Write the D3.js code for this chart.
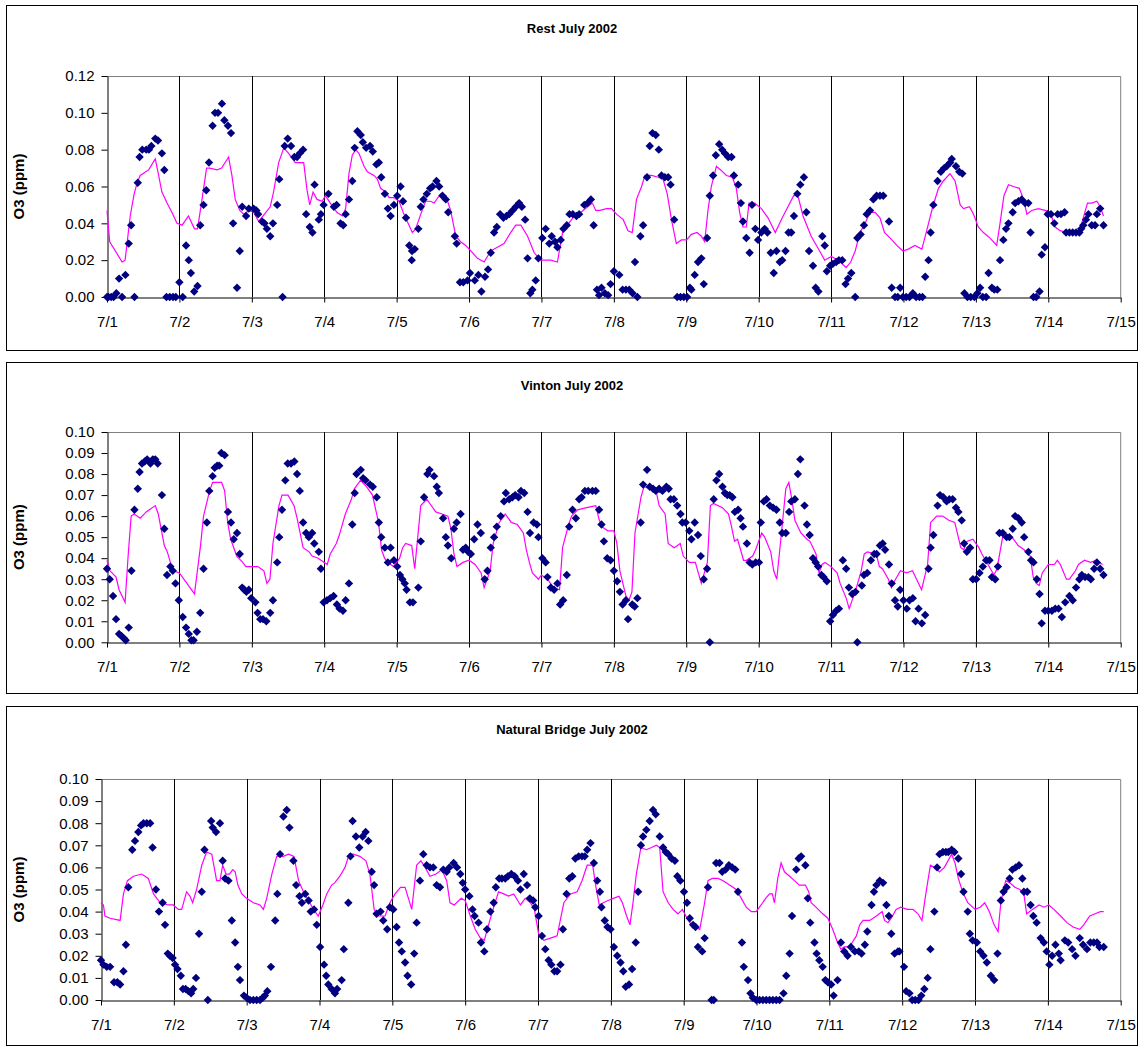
<!DOCTYPE html>
<html>
<head>
<meta charset="utf-8">
<script src="https://cdn.jsdelivr.net/npm/d3@7"></script>
<style>
  body { margin: 0; background: #fff; }
  text { font-family: Arial, "Liberation Sans", sans-serif; }
</style>
</head>
<body>
<div id="chart"></div>
<script>
// Hourly ozone, July 1-14 2002. Points are [hours since 7/1 00:00, ppm].

const dayLabels = ['7/1','7/2','7/3','7/4','7/5','7/6','7/7','7/8','7/9','7/10','7/11','7/12','7/13','7/14','7/15'];
const restTicks = [0, 0.02, 0.04, 0.06, 0.08, 0.10, 0.12];
const siteTicks = [0, 0.01, 0.02, 0.03, 0.04, 0.05, 0.06, 0.07, 0.08, 0.09, 0.10];

// Rest - measured (diamonds)
const restObs = [
[0,0],[0.5,0],[1.4,0],[2.2,0],[3.1,.002],[4,.010],[5,0],[6.1,.012],[7.2,.029],[8,.039],[9.1,0],[10.2,.062],[10.8,.076],[11.7,.080],[13,.080],[13.9,.080],[14.7,.082],[16,.086],[16.9,.085],[18.2,.078],[19,.069],[19.7,0],[20.8,0],[21.9,0],[22.8,0],
[24,.008],[25.1,0],[26.2,.028],[27.1,.020],[27.8,.013],[28.9,.003],[30,.006],[30.9,.039],[32,.050],[32.9,.058],[33.8,.073],[35,.093],[35.8,.100],[36.8,.100],[38.1,.105],[38.9,.096],[40.1,.093],[41.1,.089],[41.8,.040],[43.1,.005],[44,.025],[44.8,.049],[46.1,.044],[47,.048],
[48.6,.048],[49.5,.047],[50.1,.045],[51.4,.041],[52.2,.040],[53,.037],[54.1,.033],[55,.040],[56.4,.050],[57.1,.064],[58.2,0],[58.9,.082],[59.9,.086],[61,.082],[62.1,.076],[63,.076],[63.9,.078],[65,.080],[66,.045],[67.2,.038],[68.1,.035],[68.8,.061],[70.2,.042],[70.9,.045],[71.8,.050],[73.4,.056],
[75.2,.049],[76.1,.050],[77.4,.040],[78.3,.039],[79.1,.045],[80.2,.053],[81.3,.063],[82.1,.081],[83,.090],[84.1,.088],[84.8,.084],[85.9,.081],[87.2,.082],[88.1,.079],[89.3,.072],[90.1,.073],[90.9,.065],[92.1,.056],[93.1,.048],[94,.044],[95.1,.050],
[96.2,.055],[97.3,.060],[98.1,.052],[99.1,.043],[100.2,.028],[101.1,.025],[101,.020],[102,.026],[103.2,.037],[104,.049],[104.9,.053],[106,.056],[107.1,.059],[107.9,.060],[109.2,.063],[110.1,.060],[111.2,.055],[112.3,.053],[113.1,.046],[115.3,.033],[115.9,.029],[117,.008],[118.1,.008],[119.5,.009],
[120.3,.013],[121.9,.009],[123.1,.012],[124.1,.003],[125.3,.011],[126.3,.015],[127.2,.024],[128.3,.035],[129.2,.038],[130.3,.045],[131.4,.043],[132.4,.044],[133.3,.045],[134.4,.047],[135.5,.049],[136.6,.051],[137.5,.049],[138.6,.042],[139.4,.021],[140.3,.002],[141,.004],[142.1,.009],[143,.021],
[144.3,.032],[145.4,.037],[146.6,.029],[147.4,.033],[148.5,.030],[149.3,.027],[150.4,.031],[151.3,.037],[152.4,.039],[153.3,.045],[154.4,.045],[155.6,.044],[156.5,.045],[158.2,.050],[159.3,.051],[160.4,.053],[161.3,.039],[162.4,.004],[163.1,.001],[163.9,.005],[165,.002],[166.1,.001],[166.9,.007],
[168,.014],[169.8,.012],[170.9,.004],[172,.004],[173.1,.004],[174.2,.002],[175,.019],[175.8,0],[176.8,.033],[177.7,.039],[179,.065],[179.9,.082],[180.8,.089],[181.9,.088],[182.9,.080],[183.8,.066],[184.9,.065],[186,.065],[186.8,.061],[188,.042],[189,0],[190.1,0],[191.2,0],
[192.3,0],[193.2,.005],[193.7,.004],[194.8,.012],[195.9,.019],[197,.021],[197.8,.007],[198.9,.032],[199.8,.055],[200.9,.066],[201.8,.077],[202.9,.083],[203.9,.080],[204.8,.078],[205.9,.076],[207,.076],[207.8,.066],[209.2,.061],[210.1,.051],[210.8,.041],[211.9,.032],[213,.024],[213.8,.050],[214.9,.037],[215.8,.031],
[216.9,.035],[218,.037],[218.9,.035],[220,.024],[221,.013],[221.9,.025],[223,.019],[223.8,.020],[224.9,.025],[225.9,.035],[226.8,.035],[227.7,.044],[228.8,.056],[229.8,.061],[231,.065],[231.8,.046],[232.7,.025],[234,.017],[234.9,.005],[235.8,.003],[237.1,.033],[237.9,.028],[238.6,.014],[239.7,.017],
[240.6,.018],[241.7,.019],[242.6,.020],[243.7,.020],[244.8,.007],[245.6,.010],[246.7,.013],[248,0],[248.7,.032],[249.8,.034],[250.9,.039],[251.8,.045],[252.9,.047],[254,.053],[255.1,.055],[256.2,.055],[257.3,.055],[259.2,.041],[260.1,.005],[261.2,0],[262.1,0],[262.9,.005],[263.8,0],
[264.9,0],[266,0],[267.1,.002],[268.2,0],[269.3,0],[270.3,0],[271.2,.011],[272.3,.020],[273,.035],[273.9,.050],[275.3,.063],[276.4,.068],[277.5,.070],[278.3,.071],[279.5,.073],[280,.075],[281.4,.071],[282.5,.068],[283.5,.067],[284.2,.002],[285.2,0],[286.3,0],[287.5,0],
[288.5,.002],[289.4,.005],[290.3,0],[291.4,0],[292.2,.013],[293.3,.005],[294.1,.004],[295.1,.004],[296,.020],[297.1,.031],[298,.037],[298.8,.040],[300.2,.046],[301,.051],[302.1,.052],[303.2,.053],[304.3,.051],[305.4,.051],[306.1,.035],[307.1,0],[308,0],[309.1,.003],[309.8,.023],[310.9,.027],[311.8,.045],
[312.9,.045],[314,.040],[315.1,.045],[316.2,.045],[317.4,.046],[317.9,.035],[319,.035],[320.1,.035],[321.2,.035],[322.3,.035],[322.9,.037],[323.6,.039],[324.5,.042],[325.3,.045],[326.4,.039],[327.5,.039],[328.1,.045],[329.2,.048],[330.3,.039]
];

// Rest - magenta line
const restAvg = [
[0,.047],[0.9,.030],[5,.019],[6,.020],[7.7,.044],[9,.056],[10,.062],[11,.066],[13.8,.069],[16,.075],[17,.067],[18.2,.057],[19.9,.051],[21.5,.046],[23.2,.040],[24.9,.039],[27,.044],[29,.037],[30,.037],[31.5,.053],[33,.070],[34,.070],[36.5,.069],[38,.070],[40.3,.076],[41.4,.066],[42.5,.053],[44,.047],[45.3,.045],[47,.047],
[48.6,.046],[50.3,.041],[52.2,.045],[54.1,.049],[55.2,.057],[56.9,.073],[58.6,.081],[60.2,.078],[62.4,.073],[65.2,.073],[66.3,.058],[67.2,.050],[68.3,.057],[69.6,.053],[71.3,.052],[72.4,.055],[74,.051],[76.2,.046],[78,.044],[79.1,.048],[80.2,.067],[81.3,.077],[82.4,.080],[83.5,.078],[85.2,.071],[86.3,.068],[88.5,.066],[89.6,.064],[90.7,.059],[92.4,.057],[93.5,.054],[95.1,.054],
[96.8,.052],[98.4,.045],[101.2,.035],[102.3,.037],[104,.045],[105.6,.052],[107.3,.052],[108.4,.051],[110.6,.056],[112.3,.055],[113.9,.047],[115.6,.033],[117.2,.030],[118.9,.028],[120.6,.025],[122.8,.021],[125,.019],[127.2,.025],[129.4,.027],[131.6,.029],[133.8,.035],[135.5,.039],[137.2,.039],[139.4,.033],[141.6,.024],[143.8,.020],
[147.1,.020],[149.3,.019],[151,.035],[152.6,.039],[154.9,.044],[157.1,.046],[159.3,.049],[160.9,.051],[162,.047],[163.4,.047],[165.6,.048],[167.2,.048],[168.9,.045],[171.1,.042],[172.7,.036],[174.1,.035],[175.5,.053],[177.2,.060],[178.3,.066],[180.5,.066],[182.7,.065],[184.3,.064],[185.7,.056],[187.1,.042],[188.7,.029],[190.4,.031],
[192.1,.031],[193.7,.034],[195.6,.035],[197,.033],[198.1,.030],[199.2,.047],[200.3,.060],[202,.071],[203.4,.069],[205.3,.066],[207.3,.065],[208.6,.059],[209.7,.046],[210.8,.038],[211.9,.038],[212.8,.051],[214.7,.051],[216.9,.048],[219.1,.043],[221.5,.035],[223.5,.042],[225.7,.049],[227.6,.055],[229,.055],[230.7,.044],[233.4,.033],[236.2,.025],[237.9,.020],
[240.1,.022],[242.3,.020],[245,.016],[246.5,.019],[248,.025],[249.6,.035],[251.3,.040],[252.9,.046],[254.6,.046],[256.2,.043],[257.7,.035],[259.6,.032],[261.8,.028],[263.8,.025],[265.6,.026],[267.8,.028],[270.1,.026],[271.7,.036],[273.7,.049],[275.6,.059],[277.2,.063],[279.4,.067],[281.1,.063],[282.8,.050],[283.9,.048],[285.9,.049],[287.2,.045],
[288.8,.038],[290.5,.035],[292.7,.032],[294.9,.028],[296,.040],[297.3,.055],[298.8,.061],[300.4,.060],[302.4,.059],[303.8,.053],[304.9,.045],[306.5,.047],[308.7,.048],[310.9,.047],[312.6,.046],[314.3,.038],[315.9,.036],[318.1,.035],[320.3,.034],[322,.034],[323.6,.043],[325,.051],[326.4,.051],[328.1,.052],[329.2,.049],[330.3,.044]
];

// Vinton - measured
const vintonObs = [
[0,.035],[0.9,.030],[2,.022],[3,.011],[4,.004],[4.8,.003],[5.5,.002],[6.2,.001],[7.2,.007],[8.1,.034],[9.1,.063],[10.2,.073],[10.8,.081],[11.6,.085],[12.5,.086],[13.3,.087],[14.4,.085],[15.2,.087],[16,.087],[16.8,.085],[18.2,.070],[19,.054],[19.9,.032],[21,.036],[21.8,.034],[22.7,.028],[23.8,.020],
[25.1,.012],[26.2,.007],[27.1,.004],[28,.001],[28.7,.001],[29.8,.005],[30.9,.014],[32,.035],[33.1,.057],[33.9,.072],[35,.079],[35.7,.083],[36.5,.084],[37.2,.084],[37.9,.090],[39,.089],[40.1,.062],[41.1,.057],[42,.049],[43.1,.052],[44,.042],[44.8,.026],[45.5,.025],[46.2,.024],[47,.025],[47.8,.021],
[49.2,.019],[49.9,.014],[50.8,.011],[51.7,.011],[52.8,.010],[54.1,.014],[55,.020],[56.4,.038],[57.1,.050],[58,.063],[59.1,.077],[59.9,.085],[61,.085],[62.1,.086],[63,.080],[63.9,.072],[65,.057],[66,.052],[66.9,.050],[68,.052],[68.7,.047],[70.2,.043],[70.9,.035],[71.8,.019],
[72.9,.020],[74,.021],[75.1,.022],[76.2,.018],[77.1,.016],[78.2,.015],[79.1,.020],[80.2,.028],[81.3,.056],[82.1,.071],[82.7,.080],[84.1,.082],[84.9,.078],[85.7,.077],[87.2,.075],[88.1,.074],[89.4,.069],[90.1,.057],[90.9,.050],[92.1,.045],[93.1,.038],[94,.045],[95.1,.039],
[96.2,.036],[97.1,.032],[97.9,.030],[98.7,.028],[99.3,.025],[100.4,.019],[101.4,.019],[103.2,.026],[104,.048],[105.1,.069],[106.2,.080],[106.9,.082],[108.4,.079],[109.3,.074],[110,.071],[111.4,.059],[112.3,.050],[113,.046],[114.1,.040],[115,.054],[115.9,.057],[117.2,.061],[118,.044],[118.9,.045],[119.7,.043],
[120.6,.042],[121.7,.049],[122.8,.056],[123.9,.052],[125.2,.030],[126.1,.034],[127.2,.045],[128.3,.050],[129.2,.055],[130.5,.060],[131.6,.067],[132.2,.071],[133.3,.068],[134.4,.069],[135.3,.070],[136.4,.069],[137.2,.072],[138.3,.071],[139.4,.062],[140.2,.052],[141.4,.057],[142.5,.056],[143,.050],
[144.3,.040],[145.4,.038],[146,.031],[147.1,.026],[148.2,.025],[149.3,.028],[150.2,.018],[151.2,.020],[152.4,.032],[153.2,.055],[154.3,.063],[155.4,.059],[156.5,.068],[157.3,.069],[158.4,.072],[159.5,.072],[160.9,.072],[162,.072],[163.1,.063],[163.9,.056],[164.7,.048],[165.8,.040],[166.9,.039],
[168,.034],[169.1,.029],[170,.024],[170.9,.018],[172,.020],[172.7,.011],[174.1,.018],[174.9,.017],[175.8,.021],[176.9,.057],[177.7,.075],[179,.082],[179.9,.074],[181,.073],[181.9,.072],[183,.073],[184.1,.072],[185.4,.074],[186.2,.073],[186.8,.068],[187.9,.068],[189,.065],[190.1,.061],[190.7,.057],[191.8,.057],
[193,.053],[193.7,.049],[194.8,.057],[195.9,.051],[196.8,.041],[197.8,.030],[198.9,.035],[199.8,0],[201.1,.068],[202,.077],[202.9,.080],[204,.074],[204.8,.071],[205.6,.070],[206.4,.070],[207.3,.069],[208.1,.062],[209.2,.063],[210,.059],[210.8,.055],[212.1,.047],[213,.038],[213.9,.037],[215,.038],
[216.1,.038],[216.7,.057],[217.7,.067],[218.6,.068],[219.7,.065],[220.8,.064],[221.9,.063],[223,.057],[223.8,.052],[225,.052],[226.1,.062],[226.8,.067],[228,.068],[229,.080],[229.8,.087],[231.2,.065],[232,.056],[232.9,.051],[234,.040],[234.9,.038],[235.7,.036],[236.8,.032],[237.5,.031],[238.6,.029],[239.7,.010],
[240.6,.013],[241.7,.015],[242.6,.016],[243.9,.039],[245,.035],[245.9,.026],[247,.023],[248.1,.024],[248.7,0],[250.2,.027],[250.9,.032],[252,.033],[253.2,.039],[254.3,.042],[255.1,.042],[256.2,.046],[257.1,.047],[257.9,.044],[259.2,.037],[260.1,.028],[261.2,.020],[262.1,.017],[262.9,.025],
[264,.020],[265.1,.016],[266,.020],[267.1,.021],[268,.010],[269,.016],[270.1,.009],[271.2,.013],[272.3,.035],[273,.045],[273.9,.051],[275.3,.065],[276.1,.070],[277.2,.069],[278.3,.067],[279.2,.068],[280.3,.068],[281.4,.064],[282.2,.062],[283.3,.058],[284.1,.047],[285,.043],[286.1,.045],[287,.030],
[288.1,.030],[289.2,.033],[290.3,.036],[291.4,.039],[292.5,.039],[293.3,.031],[294.4,.030],[295.3,.036],[295.8,.052],[296.9,.052],[298.2,.050],[299.1,.050],[300.2,.054],[301,.060],[302.1,.059],[303.2,.057],[304,.050],[305.4,.043],[306.3,.039],[307.1,.038],[308.2,.030],[309.1,.023],[309.8,.009],[310.9,.015],
[312,.015],[313.2,.015],[314.3,.016],[315.4,.016],[316.5,.012],[317.6,.019],[319,.022],[320.1,.020],[321.2,.026],[322.3,.030],[323.1,.032],[324.2,.031],[325.3,.031],[326.1,.030],[327.2,.035],[328.1,.038],[329.2,.035],[330.3,.032]
];

// Vinton - magenta line
const vintonAvg = [
[0,.039],[1,.034],[3,.031],[4,.025],[6,.019],[7,.041],[8,.060],[9,.061],[11,.059],[13,.062],[16,.065],[17,.061],[19,.046],[20,.043],[21,.038],[22,.034],[24,.033],[26,.029],[29,.023],[31,.046],[32,.060],[34,.072],[35,.076],[38,.076],[39,.072],[40,.057],[41,.049],[43,.041],[45,.038],[46,.036],
[50,.036],[52,.034],[53,.028],[54,.030],[55,.047],[57,.065],[58,.070],[60,.070],[62,.065],[63,.059],[65,.045],[67,.043],[68,.041],[70,.040],[72,.038],[73,.037],[74,.042],[76,.047],[77,.051],[79,.061],[81,.068],[82,.073],[84,.077],[86,.074],[88,.070],[90,.057],[91,.044],[92,.040],[93,.038],[95,.036],
[97,.040],[98,.045],[99,.047],[101,.046],[102,.035],[103,.050],[104,.065],[106,.068],[107,.066],[109,.062],[111,.061],[113,.060],[114,.054],[115,.042],[116,.036],[118,.038],[120,.039],[122,.037],[124,.033],[125,.026],[127,.034],[128,.047],[130,.057],[132,.061],[134,.057],[136,.056],[138,.052],[139,.044],[140,.038],[141,.033],[143,.030],
[144,.032],[146,.030],[148,.026],[150,.025],[151,.045],[153,.056],[154,.060],[156,.063],[159,.064],[162,.065],[163,.059],[164,.055],[166,.053],[168,.053],[169,.047],[170,.034],[172,.022],[173,.020],[174,.024],[175,.052],[177,.069],[178,.074],[180,.073],[182,.072],[183,.065],[185,.061],[186,.047],[188,.045],[190,.047],[191,.041],
[193,.038],[195,.038],[196,.033],[197,.028],[199,.038],[200,.065],[201,.066],[204,.064],[206,.061],[207,.055],[208,.048],[209,.049],[211,.039],[212,.039],[214,.041],[215,.044],[217,.052],[218,.050],[220,.043],[221,.034],[222,.030],[223,.044],[225,.073],[226,.076],[227,.068],[228,.058],[230,.052],[232,.049],[233,.048],[235,.042],[236,.033],[237,.037],[238,.038],
[240,.036],[242,.033],[243,.028],[245,.021],[246,.016],[248,.024],[250,.034],[251,.042],[252,.043],[255,.042],[256,.036],[257,.035],[259,.030],[260,.026],[261,.029],[263,.034],[265,.033],[267,.034],[269,.028],[270,.025],[272,.037],[273,.057],[275,.060],[277,.060],[279,.058],[281,.057],[283,.045],[284,.044],[285,.048],[287,.049],
[289,.045],[290,.042],[292,.037],[294,.032],[295,.035],[297,.051],[298,.049],[300,.050],[302,.046],[304,.044],[306,.041],[307,.031],[308,.028],[309,.027],[310,.033],[312,.037],[314,.037],[315,.039],[316,.037],[318,.030],[319,.030],[321,.034],[322,.037],[324,.039],[326,.038],[328,.039],[329,.038],[330,.037]
];

// Natural Bridge - measured
const nbObs = [
[0,.018],[0.8,.016],[1.9,.015],[3,.015],[4.3,.008],[5.4,.008],[6.3,.007],[7.4,.013],[8.2,.025],[9,.051],[10.3,.068],[11.2,.072],[12.3,.076],[13.2,.079],[14,.080],[15.1,.080],[16.2,.080],[17,.069],[18.1,.050],[19.1,.040],[20.3,.044],[21.1,.034],[22,.021],[22.7,.020],[23.6,.019],
[24.4,.016],[25.2,.014],[26.3,.011],[27,.005],[27.9,.005],[28.8,.004],[29.7,.003],[30.4,.005],[31.3,.010],[32.3,.030],[33.2,.049],[34.1,.068],[35.2,0],[36.3,.081],[36.8,.078],[37.9,.076],[39.2,.080],[40.1,.063],[40.9,.055],[42,.054],[43.1,.036],[44.2,.026],[45.1,.015],[45.8,.009],[47.1,.002],
[48,.001],[49.1,0],[50.2,0],[51.3,0],[52.4,0],[53.3,.001],[54,.002],[54.8,.004],[56,.015],[57.4,.036],[58.1,.048],[59,.066],[60.1,.083],[61.2,.086],[62.1,.078],[63.4,.063],[64.3,.052],[65.4,.047],[66.2,.044],[67.3,.048],[68.4,.045],[69.1,.040],[70.2,.041],[71.1,.034],
[72.2,.024],[73.5,.016],[74.2,.011],[74.9,.007],[76,.005],[77.1,.003],[77.8,.005],[79.3,.009],[80,.023],[81.5,.044],[82.2,.065],[82.9,.081],[84,.074],[85.1,.069],[86.2,.074],[87.2,.076],[88.1,.072],[89.2,.058],[90,.052],[90.8,.039],[92.1,.040],[93,.036],[94.3,.032],[95.2,.042],
[96.3,.041],[97.4,.033],[98.2,.026],[99.1,.022],[100.2,.017],[101,.011],[102.2,.007],[103.2,.021],[104,.035],[105.1,.054],[106.2,.066],[107.3,.061],[108.4,.060],[109.5,.060],[110.6,.052],[111.7,.051],[112.8,.059],[113.9,.058],[114.8,.060],[116.2,.062],[117.3,.060],[118.4,.057],[119.2,.053],
[120,.050],[121.4,.047],[122.4,.041],[123.1,.038],[124.4,.035],[125.2,.026],[126.3,.022],[127.2,.032],[128.3,.040],[129.4,.044],[130.1,.051],[131.2,.055],[132.1,.055],[133.2,.055],[134.1,.056],[135.2,.057],[136.3,.056],[137.4,.054],[138.2,.050],[139.3,.057],[140.4,.052],[141.3,.046],[142.4,.045],[143.1,.042],
[144.2,.038],[145.3,.029],[146.4,.023],[147.5,.018],[148.4,.016],[149.4,.013],[150.3,.013],[151.4,.016],[152.2,.032],[153.4,.048],[154.3,.055],[155.3,.056],[156.3,.064],[157.4,.065],[158.5,.065],[159.4,.065],[160.2,.068],[161.3,.071],[162.4,.062],[163.5,.054],[164.4,.049],[164.9,.042],[166,.036],[166.9,.033],
[167.9,.032],[169,.024],[170.1,.020],[171.2,.017],[172.1,.013],[172.9,.006],[174,.007],[175,.014],[176.2,.026],[177,.049],[177.9,.070],[178.6,.074],[179.7,.077],[180.8,.081],[181.9,.086],[182.8,.084],[184.1,.074],[185.2,.069],[186.1,.067],[186.9,.066],[188,.064],[189.1,.063],[189.9,.056],[190.9,.054],
[192.1,.049],[193.1,.044],[194,.037],[195.1,.034],[195.9,.033],[196.7,.024],[198.1,.022],[198.9,.028],[200,.051],[201.2,0],[201.9,0],[202.7,.062],[203.8,.062],[204.7,.058],[205.8,.059],[206.9,.061],[208,.060],[209,.059],[209.9,.049],[211.2,.026],[211.8,.015],[213.2,.009],[214,.003],[214.8,.001],
[215.9,0],[217,0],[218.1,0],[219.2,0],[220.3,0],[221.4,0],[222.5,0],[223.6,0],[224.9,.003],[225.8,.011],[226.9,.021],[227.7,.038],[229.1,.059],[229.9,.064],[230.7,.065],[232.1,.061],[232.9,.046],[233.7,.035],[235.1,.026],[235.8,.021],[236.7,.018],[237.8,.015],[238.7,.009],[239.5,.008],
[240.6,.007],[241.4,.002],[242.7,.009],[243.8,.026],[244.9,.022],[246,.020],[247.1,.024],[248.4,.022],[249.7,.022],[250.6,.021],[251.7,.025],[252.5,.031],[253.9,.043],[254.7,.049],[255.5,.052],[256.6,.054],[257.7,.053],[258.8,.043],[259.6,.038],[260.4,.030],[261.5,.021],[262.6,.022],[263.1,.022],
[264.6,.015],[265.3,.004],[266.4,.003],[267.3,0],[268.3,0],[269.4,0],[270.3,.002],[271.3,.005],[272.4,.010],[273.3,.023],[274.6,.040],[275.5,.060],[276.3,.066],[277.4,.067],[278.4,.067],[279.2,.067],[280.3,.068],[281.2,.067],[282.5,.064],[283.4,.057],[284.2,.049],[285.6,.040],[286.3,.030],[287.2,.027],
[288.6,.026],[289.7,.022],[290.8,.020],[291.9,.017],[293.2,.011],[294.3,.009],[295.4,.021],[296.5,.045],[297.4,.049],[298.4,.051],[299.4,.055],[300.3,.059],[301.4,.060],[302.5,.061],[303.6,.055],[304.1,.049],[305.2,.049],[306.3,.043],[307.2,.038],[308.3,.035],[309.6,.028],[310.7,.026],[311.6,.022],
[312.5,.016],[313.4,.020],[314.5,.025],[315.6,.021],[316.2,.018],[317.6,.027],[318.7,.026],[320,.023],[321.1,.020],[322.5,.028],[323.6,.025],[324.9,.023],[326,.026],[327.1,.026],[328.2,.026],[329,.024],[330.4,.024]
];

// Natural Bridge - magenta line
const nbAvg = [
[0,.044],[0.8,.043],[1.3,.038],[3,.037],[6.3,.036],[7.4,.048],[8.7,.054],[10.7,.056],[13.4,.057],[15.6,.055],[17.3,.048],[19.5,.044],[22.2,.043],[23.8,.043],[25.5,.041],[26.6,.041],[28.2,.049],[29.3,.047],[30.2,.044],[31.5,.050],[33.2,.061],[34.8,.067],[36.5,.066],[38.1,.054],[39.2,.054],[40.1,.061],[41.2,.057],[42.3,.057],[43.4,.059],[44.2,.058],[45.1,.052],[46.4,.048],
[48,.046],[50.2,.044],[52.4,.043],[53.5,.041],[54.6,.046],[56.3,.057],[57.9,.065],[60.1,.065],[61.8,.066],[63.6,.065],[65.1,.054],[66.7,.049],[68.4,.045],[70,.041],[71.6,.038],[73.1,.043],[74.4,.048],[76,.052],[77,.053],[78.7,.056],[80.4,.060],[81.8,.066],[83.1,.066],[85.3,.065],[87.3,.063],[88.6,.057],[90,.041],[91.4,.038],[93.6,.038],[95.2,.044],
[96.9,.048],[98.7,.051],[100.2,.051],[101.3,.046],[102.4,.041],[104,.061],[105.4,.063],[106.8,.060],[108.4,.056],[110.4,.057],[112.3,.059],[113.9,.054],[115,.044],[116.4,.043],[118.7,.046],[120,.045],[121.7,.038],[123.3,.032],[125,.028],[126.3,.027],[127.7,.034],[129.4,.042],[131,.049],[132.7,.048],[134.3,.047],[136,.048],[138.2,.043],[139.8,.046],[141.5,.044],[142.8,.041],
[144.2,.030],[145.9,.027],[148.1,.028],[150.3,.029],[152.5,.044],[154.7,.048],[156.9,.049],[158.5,.054],[160.2,.061],[161.3,.061],[162,.061],[163.1,.051],[164.2,.043],[165.5,.044],[167.1,.045],[168.8,.046],[170.7,.047],[171.8,.044],[173.2,.038],[174.3,.034],[175.3,.044],[176.4,.057],[177.9,.069],[179.7,.068],[181.4,.069],[183,.070],[184.1,.069],[185.2,.049],[186.9,.044],[188.5,.041],[190.1,.039],
[191.6,.041],[192.7,.038],[194,.035],[195.6,.033],[197.3,.032],[198.9,.044],[200,.054],[201.4,.055],[203.3,.055],[205,.054],[207.1,.052],[209.3,.050],[211,.046],[212.6,.042],[214.3,.040],[215.9,.040],[217.5,.043],[219,.046],[220.3,.048],[221.2,.048],[221.9,.044],[223,.055],[224.1,.062],[225.2,.058],[226.9,.056],[228.5,.054],[230.1,.052],[232.1,.052],[233.2,.049],[234,.044],[235.6,.042],[237.8,.039],[239.5,.037],
[241.1,.032],[242.7,.026],[243.8,.023],[244.9,.024],[246.6,.024],[248.9,.029],[250,.034],[251.1,.036],[253.3,.036],[255.5,.038],[257.4,.040],[258.2,.036],[259.3,.035],[260.4,.037],[262,.041],[263.5,.042],[265.7,.041],[267.5,.041],[269.2,.039],[270.5,.036],[271.9,.049],[273.3,.061],[274.8,.060],[276.3,.058],[277.9,.060],[280.3,.066],[281.4,.062],[282.5,.055],[283.9,.049],[285.6,.044],
[288,.041],[289.7,.042],[291.2,.044],[292.7,.040],[294.3,.034],[295.6,.031],[296.5,.044],[297.6,.051],[298.1,.054],[299.5,.053],[301.1,.051],[302.8,.050],[304.1,.048],[305,.039],[306.9,.041],[309.1,.043],[310.7,.042],[312.3,.043],[314,.041],[316.2,.038],[318.3,.035],[320.3,.033],[322.5,.032],[323.8,.034],[325.8,.038],[327.6,.039],[329.3,.040],[330.4,.040]
];

// Chart setup
const width = 1143;
const height = 1051;
const svg = d3.select('#chart')
  .append('svg')
  .attr('width', width)
  .attr('height', height);

const panels = [
  { title: 'Rest July 2002', obs: restObs, avg: restAvg, ticks: restTicks,
    box: [6.5, 5.5, 1131, 345], left: 107, right: 1120.7, top: 76, bottom: 297 },
  { title: 'Vinton July 2002', obs: vintonObs, avg: vintonAvg, ticks: siteTicks,
    box: [6.5, 362.5, 1131, 331], left: 107, right: 1120.7, top: 432, bottom: 642.3 },
  { title: 'Natural Bridge July 2002', obs: nbObs, avg: nbAvg, ticks: siteTicks,
    box: [6.5, 706.5, 1131, 339], left: 101, right: 1120.7, top: 779, bottom: 1000 }
];

const diamond = 'M0,-4.2L4.2,0L0,4.2L-4.2,0Z';

function drawPanel(p) {
  const g = svg.append('g');

  // outer chart border
  g.append('rect')
    .attr('x', p.box[0]).attr('y', p.box[1])
    .attr('width', p.box[2]).attr('height', p.box[3])
    .attr('fill', 'none').attr('stroke', '#000').attr('stroke-width', 1);

  g.append('text')
    .attr('x', p.box[0] + p.box[2] / 2)
    .attr('y', p.box[1] + 27)
    .attr('text-anchor', 'middle')
    .attr('font-size', 13).attr('font-weight', 'bold')
    .text(p.title);

  const x = d3.scaleLinear().domain([0, 336]).range([p.left, p.right]);
  const y = d3.scaleLinear().domain([0, p.ticks[p.ticks.length - 1]]).range([p.bottom, p.top]);

  // plot area frame (top + right)
  g.append('path')
    .attr('d', `M${p.left},${p.top + 0.5}H${p.right}V${p.bottom}`)
    .attr('fill', 'none').attr('stroke', '#808080').attr('stroke-width', 1);

  // day gridlines
  g.append('g')
    .selectAll('line')
    .data(d3.range(24, 336, 24))
    .enter().append('line')
    .attr('x1', d => Math.round(x(d)) + 0.5)
    .attr('x2', d => Math.round(x(d)) + 0.5)
    .attr('y1', p.top)
    .attr('y2', p.bottom)
    .attr('stroke', '#000');

  // y axis
  const yAxis = g.append('g')
    .attr('transform', `translate(${Math.round(p.left) + 0.5},0)`)
    .call(d3.axisLeft(y).tickValues(p.ticks).tickFormat(d3.format('.2f'))
      .tickSize(6).tickSizeOuter(0).tickPadding(7));

  // x axis
  const xAxis = g.append('g')
    .attr('transform', `translate(0,${Math.round(p.bottom) + 0.5})`)
    .call(d3.axisBottom(x).tickValues(d3.range(0, 337, 24))
      .tickFormat((d, i) => dayLabels[i])
      .tickSize(5).tickSizeOuter(0).tickPadding(14));

  [yAxis, xAxis].forEach(a => {
    a.selectAll('path, line').attr('stroke', '#000');
    a.selectAll('text').attr('font-size', 15).attr('fill', '#000')
      .attr('font-family', 'Arial, "Liberation Sans", sans-serif');
  });

  // axis title
  g.append('text')
    .attr('transform', `translate(24,${(p.top + p.bottom) / 2}) rotate(-90)`)
    .attr('text-anchor', 'middle')
    .attr('font-size', 15).attr('font-weight', 'bold')
    .text('O3 (ppm)');

  // magenta series
  const line = d3.line()
    .x(d => x(d[0]))
    .y(d => y(d[1]));

  g.append('path')
    .datum(p.avg)
    .attr('d', line)
    .attr('fill', 'none')
    .attr('stroke', '#ff00ff')
    .attr('stroke-width', 1.2);

  // measured diamonds
  g.append('g')
    .selectAll('path')
    .data(p.obs)
    .enter().append('path')
    .attr('d', diamond)
    .attr('transform', d => `translate(${x(d[0])},${y(d[1])})`)
    .attr('fill', '#000080');
}

panels.forEach(drawPanel);
</script>
</body>
</html>
